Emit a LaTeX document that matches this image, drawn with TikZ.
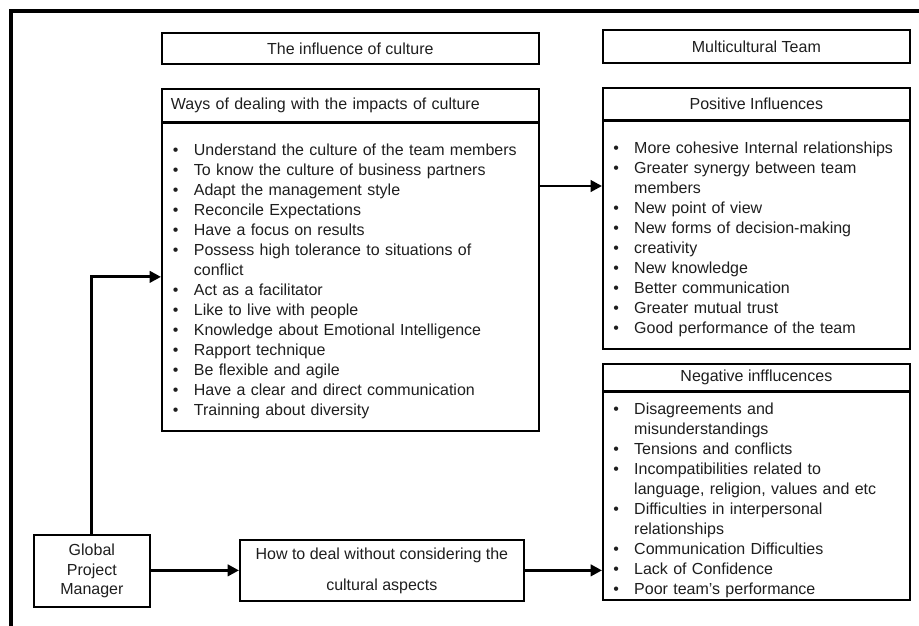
\documentclass[tikz,border=0pt]{standalone}
\usepackage{fontspec}
\setmainfont{Liberation Sans}
\usetikzlibrary{positioning,arrows.meta}
\definecolor{ink}{HTML}{1E1E1E}
\tikzset{every picture/.style={line width=0.75pt}}
\tikzset{
  box/.style={draw, line width=1.3pt, inner sep=0pt, anchor=north west, text=ink,
    font=\fontsize{12}{15}\selectfont, align=center},
  listbox/.style={box, align=left, inner xsep=7.5pt},
  arr/.style={line width=2.2pt, -{Triangle[length=8.5pt,width=8.5pt]}},
}
\newcommand{\li}{\par\noindent\hangindent=16.5pt\hangafter=1\makebox[16.5pt][l]{\hspace{0.8pt}\textbullet}}

\begin{document}
\begin{tikzpicture}[x=0.75pt,y=-0.75pt]
\useasboundingbox (0,0) rectangle (919,625);
\draw[line width=2.6pt] (11,640) -- (11,11) -- (930,11);

\node[box, minimum width=282.75pt, minimum height=23.25pt] (infl) at (161,32) {The influence of culture};
\node[box, minimum width=230.25pt, minimum height=24.75pt] (multi) at (602,29) {Multicultural Team};
\node[box, align=left, inner xsep=6.75pt, text width=269.25pt, minimum height=24.75pt] (wayshead) at (161,88) {Ways of dealing with the impacts of culture};
\node[listbox, text width=267.75pt, minimum height=231pt] (waysbody) at (161,122) {%
\li Understand the culture of the team members
\li To know the culture of business partners
\li Adapt the management style
\li Reconcile Expectations
\li Have a focus on results
\li Possess high tolerance to situations of\newline conflict
\li Act as a facilitator
\li Like to live with people
\li Knowledge about Emotional Intelligence
\li Rapport technique
\li Be flexible and agile
\li Have a clear and direct communication
\li Trainning about diversity\par};

\node[box, minimum width=230.25pt, minimum height=24pt] (poshead) at (602,87) {Positive Influences};
\node[listbox, inner xsep=7pt, text width=216.25pt, minimum height=171pt] (posbody) at (602,120) {%
\li More cohesive Internal relationships
\li Greater synergy between team\newline members
\li New point of view
\li New forms of decision-making
\li creativity
\li New knowledge
\li Better communication
\li Greater mutual trust
\li Good performance of the team\par};

\node[box, minimum width=230.25pt, minimum height=20.25pt] (neghead) at (602,363) {Negative infflucences};
\node[listbox, inner xsep=7pt, text width=216.25pt, minimum height=156pt] (negbody) at (602,391) {%
\li Disagreements and\newline misunderstandings
\li Tensions and conflicts
\li Incompatibilities related to\newline language, religion, values and etc
\li Difficulties in interpersonal\newline relationships
\li Communication Difficulties
\li Lack of Confidence
\li Poor team's performance\par};

\node[box, minimum width=87pt, minimum height=54pt, font=\fontsize{12}{14.6}\selectfont] (gpm) at (33,534) {Global\\Project\\Manager};
\node[box, minimum width=213pt, minimum height=45.75pt, font=\fontsize{12}{23.25}\selectfont] (howto) at (239,539) {How to deal without considering the\\cultural aspects};

\draw[arr] (gpm.north) |- (waysbody.west);
\draw[arr] (waysbody.east |- 0,186) -- (posbody.west |- 0,186);
\draw[arr] (gpm.east |- howto.west) -- (howto.west);
\draw[arr] (howto.east) -- (negbody.west |- howto.east);
\end{tikzpicture}
\end{document}
